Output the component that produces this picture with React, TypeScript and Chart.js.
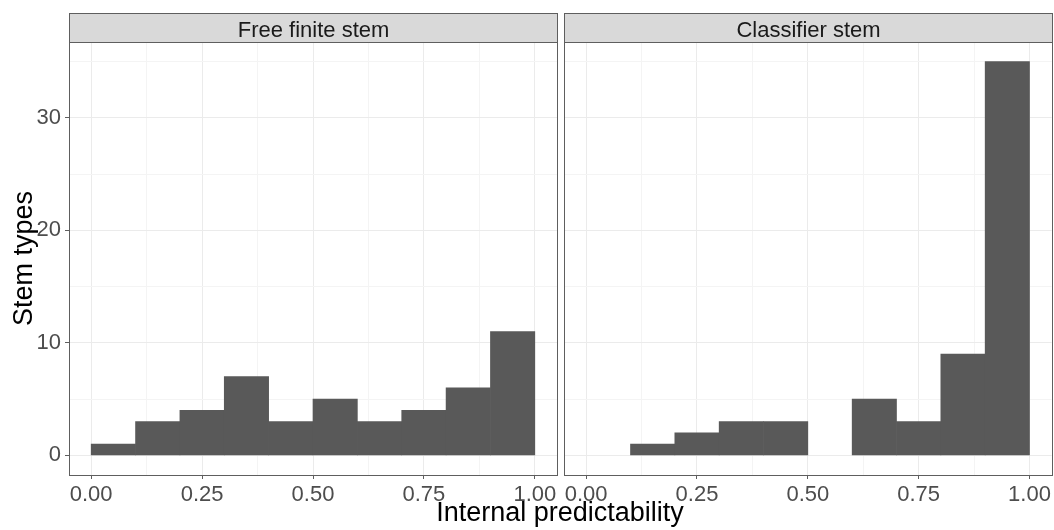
import React, { useEffect, useRef } from "react";
import { Chart, registerables } from "chart.js";

Chart.register(...registerables);

// ---- data ----
const binCenters = [0.05, 0.15, 0.25, 0.35, 0.45, 0.55, 0.65, 0.75, 0.85, 0.95];
const freeFiniteCounts = [1, 3, 4, 7, 3, 5, 3, 4, 6, 11];
const classifierCounts = [0, 1, 2, 3, 3, 0, 5, 3, 9, 35];
const panelTitles = ["Free finite stem", "Classifier stem"];
const xMajorTicks = [0, 0.25, 0.5, 0.75, 1];
const xMinorTicks = [0.125, 0.375, 0.625, 0.875];
const yMajorTicks = [0, 10, 20, 30];
const yMinorTicks = [5, 15, 25, 35];
const xTitle = "Internal predictability";
const yTitle = "Stem types";

const FONT = "'Liberation Sans', Arial, Helvetica, sans-serif";
const W = 1054;
const H = 530;
const LINE = "#5E5E5E";

const isIn = (arr: number[], v: number) => arr.some((m) => Math.abs(m - v) < 1e-9);

function panelPlugin(title: string, drawTitles: boolean) {
  return {
    id: "panelDeco" + (drawTitles ? "L" : "R"),
    afterDraw(chart: any) {
      const { ctx, chartArea: a } = chart;
      ctx.save();
      // panel border
      ctx.strokeStyle = LINE;
      ctx.lineWidth = 1;
      const l = Math.round(a.left) + 0.5;
      const r = Math.round(a.right) + 0.5;
      const t = Math.round(a.top) + 0.5;
      const b = Math.round(a.bottom) + 0.5;
      ctx.strokeRect(l, t, r - l, b - t);
      // strip
      const st = 13.5;
      ctx.fillStyle = "#D9D9D9";
      ctx.fillRect(l, st, r - l, t - st);
      ctx.strokeRect(l, st, r - l, t - st);
      ctx.fillStyle = "#1A1A1A";
      ctx.font = `22px ${FONT}`;
      ctx.textAlign = "center";
      ctx.textBaseline = "alphabetic";
      ctx.fillText(title, (l + r) / 2, 36.5);
      if (drawTitles) {
        ctx.fillStyle = "#000000";
        ctx.font = `27px ${FONT}`;
        ctx.fillText(xTitle, 560, 521);
        ctx.save();
        ctx.translate(32, (a.top + a.bottom) / 2);
        ctx.rotate(-Math.PI / 2);
        ctx.fillText(yTitle, 0, 0);
        ctx.restore();
      }
      ctx.restore();
    },
  };
}

function makeConfig(counts: number[], title: string, left: boolean): any {
  const xTickVals = [...xMajorTicks, ...xMinorTicks].sort((p, q) => p - q);
  const yTickVals = [...yMajorTicks, ...yMinorTicks].sort((p, q) => p - q);
  const points = binCenters
    .map((x, i) => ({ x, y: counts[i] }))
    .filter((d) => d.y > 0);
  return {
    type: "bar",
    data: {
      datasets: [
        {
          data: points,
          backgroundColor: "#595959",
          borderWidth: 0,
          barPercentage: 1,
          categoryPercentage: 1,
        },
      ],
    },
    options: {
      responsive: false,
      animation: false,
      devicePixelRatio: 1,
      layout: {
        padding: left
          ? { left: 0, right: W - 557, top: 42, bottom: 0 }
          : { left: 564, right: W - 1052, top: 42, bottom: 0 },
      },
      plugins: {
        legend: { display: false },
        tooltip: { enabled: false },
        title: { display: false },
      },
      scales: {
        x: {
          type: "linear",
          min: -0.05,
          max: 1.05,
          offset: false,
          afterBuildTicks: (s: any) => {
            s.ticks = xTickVals.map((v) => ({ value: v }));
          },
          afterFit: (s: any) => {
            s.height = H - 475;
          },
          border: { display: false },
          grid: {
            offset: false,
            drawTicks: true,
            tickLength: 4,
            color: (c: any) => (c.tick && isIn(xMajorTicks, c.tick.value) ? "#EBEBEB" : "#F4F4F4"),
            lineWidth: 1,
            tickColor: (c: any) => (c.tick && isIn(xMajorTicks, c.tick.value) ? LINE : "rgba(0,0,0,0)"),
            tickWidth: 1,
          },
          ticks: {
            autoSkip: false,
            maxRotation: 0,
            minRotation: 0,
            padding: 3,
            color: "#4D4D4D",
            font: { family: FONT, size: 22 },
            callback: (v: number) => (isIn(xMajorTicks, v) ? Number(v).toFixed(2) : ""),
          },
        },
        y: {
          type: "linear",
          min: -1.75,
          max: 36.75,
          afterBuildTicks: (s: any) => {
            s.ticks = yTickVals.map((v) => ({ value: v }));
          },
          afterFit: (s: any) => {
            s.width = left ? 69 : 0;
          },
          border: { display: false },
          grid: {
            drawTicks: left,
            tickLength: 4,
            color: (c: any) => (c.tick && isIn(yMajorTicks, c.tick.value) ? "#EBEBEB" : "#F4F4F4"),
            lineWidth: 1,
            tickColor: (c: any) => (c.tick && isIn(yMajorTicks, c.tick.value) ? LINE : "rgba(0,0,0,0)"),
            tickWidth: 1,
          },
          ticks: {
            display: left,
            autoSkip: false,
            padding: 4,
            color: "#4D4D4D",
            font: { family: FONT, size: 22 },
            callback: (v: number) => (isIn(yMajorTicks, v) ? String(v) : ""),
          },
        },
      },
    },
    plugins: [panelPlugin(title, left)],
  };
}

export default function App() {
  const leftRef = useRef<HTMLCanvasElement | null>(null);
  const rightRef = useRef<HTMLCanvasElement | null>(null);

  useEffect(() => {
    if (!leftRef.current || !rightRef.current) return;
    const c1 = new Chart(leftRef.current, makeConfig(freeFiniteCounts, panelTitles[0], true));
    const c2 = new Chart(rightRef.current, makeConfig(classifierCounts, panelTitles[1], false));
    return () => {
      c1.destroy();
      c2.destroy();
    };
  }, []);

  const cs: React.CSSProperties = { position: "absolute", left: 0, top: 0, width: W, height: H };
  return (
    <div style={{ position: "absolute", left: 0, top: 0, width: W, height: H, background: "#FFFFFF" }}>
      <canvas ref={leftRef} width={W} height={H} style={cs} />
      <canvas ref={rightRef} width={W} height={H} style={cs} />
    </div>
  );
}
